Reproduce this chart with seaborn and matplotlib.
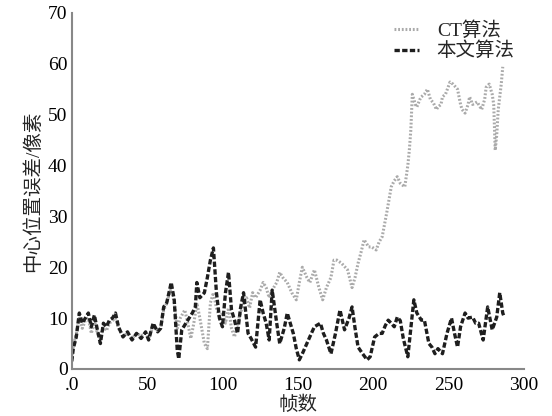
import numpy as np
import pandas as pd
import matplotlib
matplotlib.use("Agg")
import matplotlib.pyplot as plt
import seaborn as sns

# CT algorithm (light dotted line)
ct_frames = [0, 1, 3, 5, 7, 9, 11, 13, 15, 17, 19, 21, 23, 25, 27, 29, 31, 34, 37, 40,
             43, 46, 49, 51, 54, 57, 59, 61, 63, 66, 68, 70, 72, 75, 77, 79, 81, 83, 85, 88,
             90, 92, 94, 96, 98, 100, 102, 104, 106, 108, 110, 112, 114, 116, 118, 120, 122, 125, 127, 129,
             131, 133, 136, 138, 140, 143, 146, 149, 151, 153, 156, 158, 161, 164, 166.5, 169, 172, 174, 176, 179,
             183, 186, 188, 190, 192, 194, 197, 199, 202, 204, 206, 209, 212, 214, 216, 218, 221, 223, 224, 225,
             226, 228, 229, 231, 232, 234, 236, 238, 240, 242, 243, 245, 246, 248, 251, 253, 256, 258, 259, 261,
             263, 264, 266, 269, 271, 272, 274, 275, 277, 279, 280, 281, 282, 283, 285, 286]
ct_err = [2, 4.5, 7, 10, 8, 9.5, 10, 7, 9.5, 7, 6, 8.5, 7.5, 9, 9.5, 10, 8, 6.5, 7, 6,
          7, 6.5, 7, 6, 8.5, 7.5, 8, 11.5, 13, 16, 13, 8, 10, 11.6, 9, 6, 9, 13, 10, 5,
          4, 13, 15, 12, 10, 11, 9, 12, 8, 6.3, 9, 11, 13, 14, 12, 15, 14, 15.5, 17, 16,
          14, 15.5, 17, 19, 18, 17, 15, 13.6, 17, 20, 18, 17, 19.5, 16, 13.6, 16, 18, 21.4, 21.4, 20.8,
          19.5, 16, 18, 20.8, 23, 25.4, 24, 24, 23.4, 25, 26, 30.7, 35.8, 37, 37.8, 36.5, 35.8, 40, 43, 47,
          54, 52, 51.5, 53, 53.5, 54, 55, 53, 52.3, 51, 51.5, 52, 53.5, 54, 56.4, 56, 55, 52, 51, 50.3,
          52, 53.5, 52, 52.5, 51.5, 51, 53, 55.4, 56, 54, 52, 43, 46, 51, 56, 59.4]

# proposed algorithm (dark dashed line)
our_frames = [0, 1, 3, 5, 7, 9, 11, 13, 15, 17, 19, 21, 23, 25, 27, 29, 31, 34, 37, 40,
              43, 46, 49, 51, 54, 57, 59, 61, 63, 66, 68, 70, 71, 73, 77, 80, 82, 83, 85, 88,
              90, 92, 94, 96, 98, 100, 102, 104, 106, 108, 110, 112, 114, 117, 119, 122, 125, 127, 129, 131,
              133, 136, 138, 141, 143, 145, 147, 149, 151, 153, 156, 159, 161, 165, 167, 169, 172, 175, 178, 181,
              184, 186, 188, 190, 193, 196, 198, 201, 204, 206, 208, 210, 212, 214, 216, 218, 220, 223, 225, 227,
              229, 232, 234, 237, 239, 241, 243, 246, 249, 252, 254, 256, 258, 261, 263, 266, 268, 270, 273, 276,
              279, 282, 284, 286, 287]
our_err = [1.5, 4, 6.3, 11, 9, 10, 11, 8.3, 10.6, 7.7, 5, 9, 8.3, 9.6, 10, 11, 8.3, 6.3, 7.3, 5.7,
           7, 6, 7.3, 5.7, 9, 7.3, 8, 12.2, 13, 17, 13.6, 3.7, 2, 7.7, 9.6, 11, 12.2, 17, 14, 15,
           18, 21.4, 23.8, 15, 10, 8.3, 15, 19, 11.6, 9.6, 7, 12, 15, 7, 6, 4.3, 13.6, 11, 9, 5.7,
           15.5, 9, 5, 8, 11, 9, 7, 4, 1.8, 3, 5, 7, 8.3, 9, 7, 5.7, 3, 7, 11.6, 7.7,
           10, 12.2, 8, 4.3, 3, 1.8, 2.4, 6.3, 7, 7, 8.5, 9.6, 9, 8.3, 10.2, 9.5, 6, 2.4, 8, 13.6,
           11, 9.6, 9.6, 5, 4.3, 3, 4, 3, 7, 10, 7, 4.3, 8.3, 11, 10, 10.2, 9, 9, 5.7, 12.2,
           7.7, 10.2, 15, 11, 10.2]

x_ticks = [0, 50, 100, 150, 200, 250, 300]
x_tick_labels = [".0", "50", "100", "150", "200", "250", "300"]
y_ticks = [0, 10, 20, 30, 40, 50, 60, 70]

sns.set_style("white")
plt.rcParams['font.family'] = ['Liberation Serif', 'Noto Sans CJK SC']
plt.rcParams['axes.unicode_minus'] = False

fig = plt.figure(figsize=(5.52, 4.16), dpi=100)
ax = fig.add_axes([0.130, 0.113, 0.819, 0.856])

sns.lineplot(x=ct_frames, y=ct_err, ax=ax, color="#aaaaaa",
             linewidth=2.2, label="CT算法")
sns.lineplot(x=our_frames, y=our_err, ax=ax, color="#1e1e1e",
             linewidth=2.4, label="本文算法")
ax.lines[0].set_linestyle((0, (0.6, 0.6)))
ax.lines[1].set_linestyle((0, (1.6, 0.7)))

ax.set_xlim(0, 300)
ax.set_ylim(0, 70)
ax.set_xticks(x_ticks)
ax.set_xticklabels(x_tick_labels)
ax.set_yticks(y_ticks)

for side in ["top", "right"]:
    ax.spines[side].set_visible(False)
for side in ["left", "bottom"]:
    ax.spines[side].set_color("#888888")
    ax.spines[side].set_linewidth(1.5)

ax.tick_params(direction="in", length=4, width=1, color="#888888",
               labelsize=14, labelcolor="black")
ax.tick_params(axis="x", pad=6)
ax.tick_params(axis="y", pad=3)
ax.set_xlabel("帧数", fontsize=14, labelpad=1)
ax.set_ylabel("中心位置误差/像素", fontsize=14, labelpad=4)

leg = ax.legend(frameon=False, loc="upper right", bbox_to_anchor=(1.01, 1.015),
                fontsize=14, handlelength=1.3, handletextpad=0.9,
                labelspacing=0.1, borderpad=0.2)

fig.savefig("out.png", dpi=100, facecolor="white")
